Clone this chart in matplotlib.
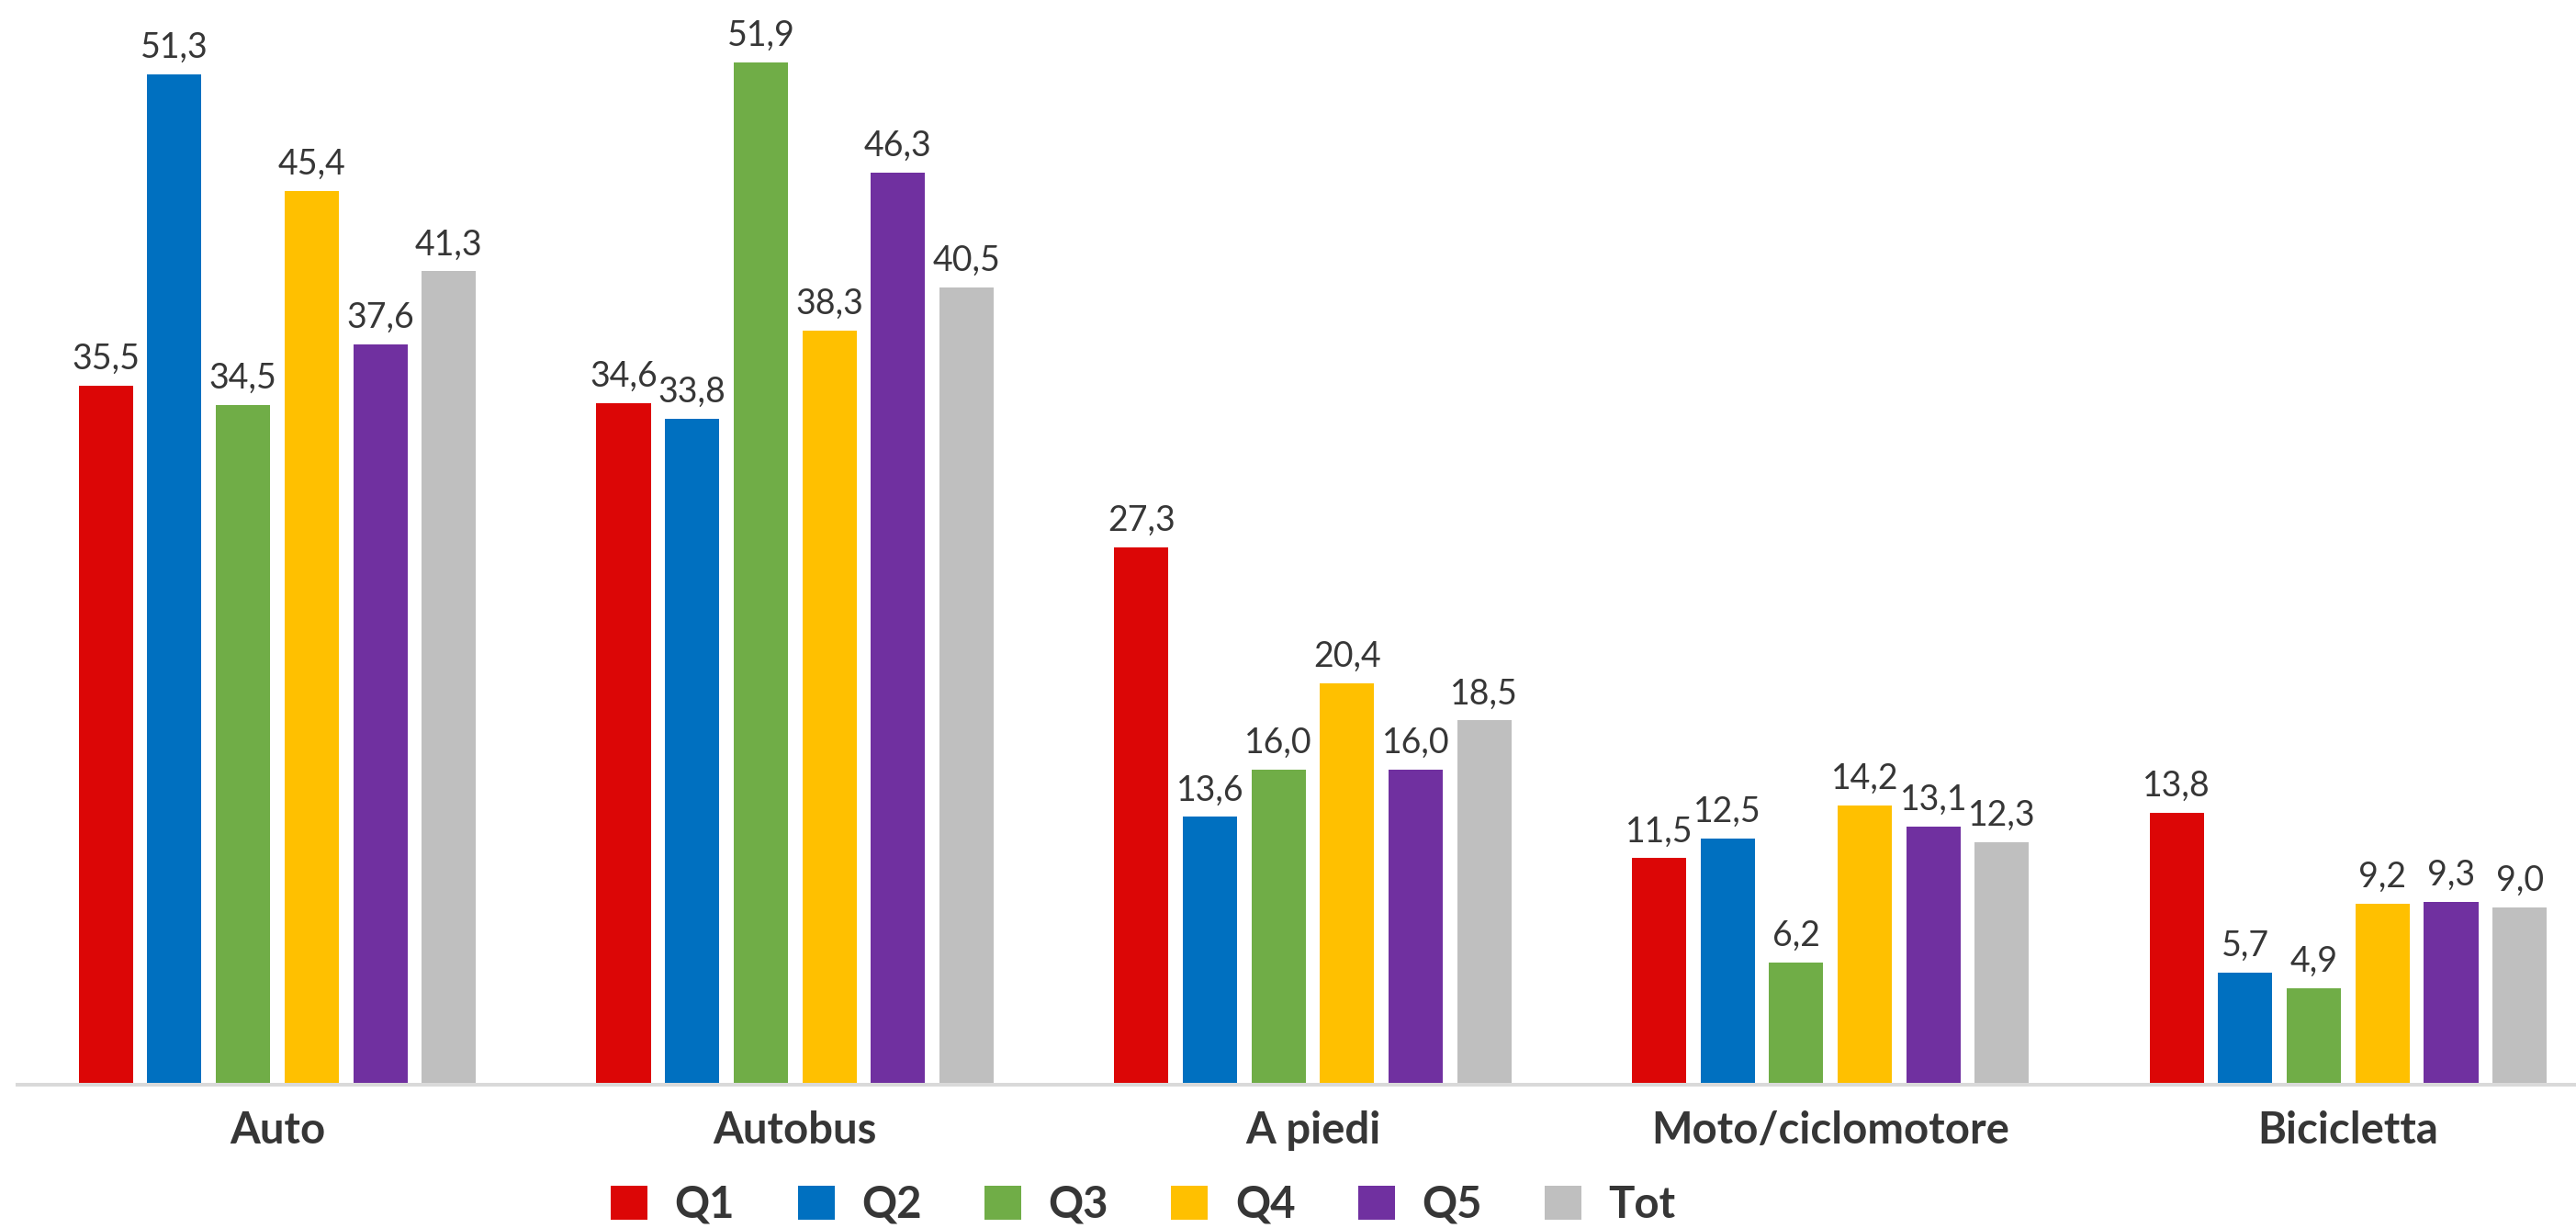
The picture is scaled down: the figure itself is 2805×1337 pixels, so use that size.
import matplotlib
matplotlib.use("Agg")
import matplotlib.pyplot as plt
import matplotlib.transforms as mtransforms
import numpy as np

categories = ["Auto", "Autobus", "A piedi", "Moto/ciclomotore", "Bicicletta"]
series_names = ["Q1", "Q2", "Q3", "Q4", "Q5", "Tot"]
q1 = [35.5, 34.6, 27.3, 11.5, 13.8]
q2 = [51.3, 33.8, 13.6, 12.5, 5.7]
q3 = [34.5, 51.9, 16.0, 6.2, 4.9]
q4 = [45.4, 38.3, 20.4, 14.2, 9.2]
q5 = [37.6, 46.3, 16.0, 13.1, 9.3]
tot = [41.3, 40.5, 18.5, 12.3, 9.0]
series_values = [q1, q2, q3, q4, q5, tot]
colors = ["#DC0606", "#0070C0", "#70AD47", "#FFC000", "#7030A0", "#BFBFBF"]

W, H, DPI = 2805, 1337, 100
plt.rcParams['font.family'] = ['Lato', 'DejaVu Sans']
fig = plt.figure(figsize=(W / DPI, H / DPI), dpi=DPI)
text_color = "#363636"

ax_left = 19 / W
ax_bottom = (H - 1181) / H
ax = fig.add_axes([ax_left, ax_bottom, 1 - ax_left, 1 - ax_bottom])

x = np.arange(len(categories))
pitch = 0.1325
width = 0.1047
for i, (name, vals, c) in enumerate(zip(series_names, series_values, colors)):
    pos = x + (i - 2.5) * pitch
    ax.bar(pos, vals, width=width, color=c, label=name, zorder=2)
    for p, v in zip(pos, vals):
        ax.annotate(f"{v:.1f}".replace(".", ","), xy=(p, v), xytext=(0, 13),
                    textcoords="offset points", ha="center", va="baseline",
                    fontsize=27, color=text_color)

ax.set_xlim(-0.502, 4.44)
ax.set_ylim(0, 55.08)
for s in ["top", "left", "right"]:
    ax.spines[s].set_visible(False)
ax.spines["bottom"].set_color("#D9D9D9")
ax.spines["bottom"].set_linewidth(2.9)
ax.set_yticks([])
ax.set_xticks([])

trans = mtransforms.blended_transform_factory(ax.transData, fig.transFigure)
label_base = (H - 1245) / H
for xi, cat in zip(x, categories):
    ax.text(xi, label_base, cat, transform=trans, ha="center", va="baseline",
            fontsize=34, fontweight="bold", color=text_color)

leg = fig.legend(loc="center", bbox_to_anchor=(1245 / W, (H - 1312) / H),
                 ncol=6, frameon=False, fontsize=34,
                 handlelength=0.85, handleheight=0.85, handletextpad=0.62,
                 columnspacing=1.45, borderpad=0, borderaxespad=0)
for t in leg.get_texts():
    t.set_fontweight("bold")
    t.set_color(text_color)

fig.savefig("out.png", dpi=DPI)
